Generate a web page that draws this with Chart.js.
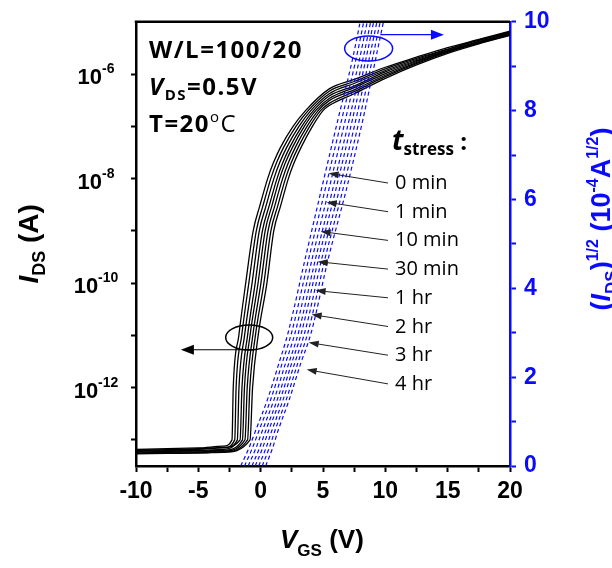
<!DOCTYPE html>
<html>
<head>
<meta charset="utf-8">
<script src="https://cdn.jsdelivr.net/npm/chart.js@4.4.0/dist/chart.umd.min.js"></script>
<style>
  html, body { margin: 0; padding: 0; background: #fff; }
  #wrap { width: 612px; height: 568px; }
</style>
</head>
<body>
<div id="wrap"><canvas id="transfer-canvas" width="612" height="568"></canvas></div>
<script>
// Transfer curves after gate-bias stress: log I_DS (left) and sqrt(I_DS) (right)
const STRESS_LABELS = ['0 min', '1 min', '10 min', '30 min', '1 hr', '2 hr', '3 hr', '4 hr'];

// off-state current, shared VGS grid
const VGS_OFF = [-10, -7.5, -5, -3];
const IDS_OFF = [
    [6.6e-14, 6.8e-14, 7.0e-14, 7.6e-14],
    [6.2e-14, 6.4e-14, 6.6e-14, 7.0e-14],
    [6.0e-14, 6.2e-14, 6.3e-14, 6.6e-14],
    [6.4e-14, 6.5e-14, 6.8e-14, 7.2e-14],
    [5.8e-14, 6.0e-14, 6.1e-14, 6.3e-14],
    [5.6e-14, 5.8e-14, 5.9e-14, 6.1e-14],
    [5.5e-14, 5.6e-14, 5.7e-14, 5.9e-14],
    [5.4e-14, 5.5e-14, 5.6e-14, 5.8e-14]
];

// subthreshold rise: VGS at which each curve reaches these currents
const ID_LEVELS = [1e-13, 1e-12, 1e-11, 1e-10, 1e-9, 3e-9, 1e-8, 2e-8, 4e-8, 1e-7, 2e-7];
const VGS_RISE = [
    [-2.30, -2.20, -1.75, -1.20, -0.60, -0.07, 0.56, 1.02, 1.60, 2.60, 3.60],
    [-2.08, -1.97, -1.52, -0.95, -0.35, 0.18, 0.81, 1.27, 1.85, 2.83, 3.81],
    [-1.87, -1.74, -1.29, -0.69, -0.11, 0.43, 1.06, 1.52, 2.10, 3.07, 4.02],
    [-1.65, -1.50, -1.05, -0.44, 0.14, 0.68, 1.31, 1.77, 2.34, 3.30, 4.23],
    [-1.46, -1.30, -0.85, -0.21, 0.36, 0.90, 1.52, 1.98, 2.56, 3.50, 4.41],
    [-1.26, -1.08, -0.63, 0.02, 0.59, 1.13, 1.76, 2.22, 2.79, 3.72, 4.61],
    [-1.05, -0.87, -0.42, 0.26, 0.82, 1.37, 1.99, 2.45, 3.02, 3.93, 4.80],
    [-0.85, -0.65, -0.20, 0.50, 1.05, 1.60, 2.22, 2.68, 3.25, 4.15, 5.00]
];

// on-state current, shared VGS grid
const VGS_ON = [5.5, 7.5, 10, 12.5, 15, 17.5, 20];
const IDS_ON = [
    [5.2e-7, 7.9e-7, 1.35e-6, 2.1e-6, 3.2e-6, 4.6e-6, 6.6e-6],
    [4.7e-7, 7.2e-7, 1.26e-6, 2.0e-6, 3.0e-6, 4.5e-6, 6.4e-6],
    [4.2e-7, 6.6e-7, 1.17e-6, 1.9e-6, 2.95e-6, 4.4e-6, 6.2e-6],
    [3.8e-7, 5.9e-7, 1.10e-6, 1.8e-6, 2.8e-6, 4.2e-6, 6.1e-6],
    [3.4e-7, 5.5e-7, 1.02e-6, 1.74e-6, 2.75e-6, 4.1e-6, 5.9e-6],
    [3.1e-7, 5.0e-7, 9.5e-7, 1.66e-6, 2.7e-6, 4.0e-6, 5.8e-6],
    [2.75e-7, 4.6e-7, 8.9e-7, 1.58e-6, 2.6e-6, 3.9e-6, 5.6e-6],
    [2.5e-7, 4.2e-7, 8.3e-7, 1.5e-6, 2.5e-6, 3.8e-6, 5.5e-6]
];

// sqrt(I_DS) in 1e-4 A^1/2: VGS at which each curve reaches these levels
const SQRT_LEVELS = [0, 0.4, 0.8, 1.5, 2.3, 3.0, 4.7, 6.2, 7.8, 9.2, 10.6];
const VGS_SQRT = [
    [-1.60, -0.95, -0.40, 0.55, 1.45, 2.20, 3.60, 4.85, 6.20, 7.40, 8.40],
    [-1.30, -0.67, -0.13, 0.81, 1.71, 2.48, 3.88, 5.15, 6.50, 7.68, 8.69],
    [-1.00, -0.38, 0.14, 1.08, 1.98, 2.76, 4.16, 5.45, 6.80, 7.96, 8.97],
    [-0.70, -0.10, 0.41, 1.34, 2.24, 3.03, 4.43, 5.75, 7.10, 8.23, 9.26],
    [-0.44, 0.15, 0.64, 1.57, 2.47, 3.27, 4.67, 6.01, 7.36, 8.47, 9.50],
    [-0.16, 0.42, 0.90, 1.81, 2.71, 3.53, 4.93, 6.29, 7.64, 8.73, 9.77],
    [0.12, 0.68, 1.15, 2.06, 2.96, 3.79, 5.19, 6.57, 7.92, 8.99, 10.03],
    [0.40, 0.95, 1.40, 2.30, 3.20, 4.05, 5.45, 6.85, 8.20, 9.25, 10.30]
];

const LOG_TICKS = [1e-13, 1e-12, 1e-11, 1e-10, 1e-9, 1e-8, 1e-7, 1e-6];
const LOG_LABELS = { '-6': '-6', '-8': '-8', '-10': '-10', '-12': '-12' };

const BLUE = '#0a0aff';
const AXIS_FONT = '"Liberation Sans", Arial, sans-serif';
const NOTE_FONT = '"Open Sans", "Noto Sans", sans-serif';

function blackCurve(i) {
    const pts = [];
    VGS_OFF.forEach((v, k) => pts.push({ x: v, y: IDS_OFF[i][k] }));
    VGS_RISE[i].forEach((v, k) => pts.push({ x: v, y: ID_LEVELS[k] }));
    VGS_ON.forEach((v, k) => pts.push({ x: v, y: IDS_ON[i][k] }));
    return pts;
}

function sqrtCurve(i) {
    return VGS_SQRT[i].map((v, k) => ({ x: v, y: SQRT_LEVELS[k] }));
}

const datasets = [];
STRESS_LABELS.forEach((label, i) => {
    datasets.push({
        label: label + ' sqrt',
        data: sqrtCurve(i),
        yAxisID: 'y2',
        borderColor: BLUE,
        borderWidth: 1.2,
        borderDash: [4, 3],
        cubicInterpolationMode: 'monotone',
        showLine: true,
        pointRadius: 0,
        order: 0
    });
});
STRESS_LABELS.forEach((label, i) => {
    datasets.push({
        label: label,
        data: blackCurve(i),
        yAxisID: 'y',
        borderColor: '#000',
        borderWidth: 1.3,
        cubicInterpolationMode: 'monotone',
        showLine: true,
        pointRadius: 0,
        order: 1
    });
});

// draws a sequence of text runs with their own fonts and offsets; returns end x
function drawRuns(ctx, x, y, parts) {
    for (const p of parts) {
        ctx.font = p.font;
        ctx.fillText(p.text, x, y + (p.dy || 0));
        x += ctx.measureText(p.text).width;
    }
    return x;
}
function runsWidth(ctx, parts) {
    let w = 0;
    for (const p of parts) { ctx.font = p.font; w += ctx.measureText(p.text).width; }
    return w;
}

function arrow(ctx, x0, y0, x1, y1, color, headLen, headHalf) {
    const ang = Math.atan2(y1 - y0, x1 - x0);
    ctx.strokeStyle = color;
    ctx.fillStyle = color;
    ctx.beginPath();
    ctx.moveTo(x0, y0);
    ctx.lineTo(x1 - Math.cos(ang) * headLen * 0.8, y1 - Math.sin(ang) * headLen * 0.8);
    ctx.stroke();
    ctx.beginPath();
    ctx.moveTo(x1, y1);
    ctx.lineTo(x1 - Math.cos(ang) * headLen - Math.sin(ang) * headHalf, y1 - Math.sin(ang) * headLen + Math.cos(ang) * headHalf);
    ctx.lineTo(x1 - Math.cos(ang) * headLen + Math.sin(ang) * headHalf, y1 - Math.sin(ang) * headLen - Math.cos(ang) * headHalf);
    ctx.closePath();
    ctx.fill();
}

// label arrow heads sit on the sqrt curves (VGS, sqrt units)
const ARROW_TIPS = [[5.45, 6.59], [5.29, 5.94], [4.81, 5.28], [4.57, 4.60], [4.41, 3.95], [4.09, 3.41], [3.85, 2.78], [3.69, 2.17]];

const decorations = {
    id: 'decorations',
    afterDraw(chart) {
        const { ctx, chartArea: a, scales } = chart;
        const sx = scales.x, sy = scales.y, s2 = scales.y2;
        ctx.save();
        ctx.textBaseline = 'alphabetic';

        // top frame
        ctx.strokeStyle = '#000';
        ctx.lineWidth = 2.5;
        ctx.beginPath();
        ctx.moveTo(a.left - 1.25, a.top);
        ctx.lineTo(a.right, a.top);
        ctx.stroke();

        // left decade labels 10^n, centred under one another
        ctx.fillStyle = '#000';
        ctx.textAlign = 'left';
        LOG_TICKS.forEach(v => {
            const e = String(Math.round(Math.log10(v)));
            if (!LOG_LABELS[e]) return;
            const parts = [
                { text: '10', font: 'bold 22px ' + AXIS_FONT },
                { text: LOG_LABELS[e], font: 'bold 14px ' + AXIS_FONT, dy: -11 }
            ];
            const w = runsWidth(ctx, parts);
            drawRuns(ctx, 96 - w / 2, sy.getPixelForValue(v) + 10, parts);
        });

        // left axis title
        ctx.save();
        const lt = [
            { text: 'I', font: 'italic bold 28px ' + AXIS_FONT },
            { text: 'DS', font: 'bold 18px ' + AXIS_FONT, dy: 7 },
            { text: ' (A)', font: 'bold 28px ' + AXIS_FONT }
        ];
        ctx.translate(38, (a.top + a.bottom) / 2);
        ctx.rotate(-Math.PI / 2);
        drawRuns(ctx, -runsWidth(ctx, lt) / 2, 0, lt);
        ctx.restore();

        // right axis title
        ctx.save();
        ctx.fillStyle = BLUE;
        const rt = [
            { text: '(', font: 'bold 27px ' + AXIS_FONT },
            { text: 'I', font: 'italic bold 27px ' + AXIS_FONT },
            { text: 'DS', font: 'bold 17px ' + AXIS_FONT, dy: 7 },
            { text: ')', font: 'bold 27px ' + AXIS_FONT },
            { text: '1/2', font: 'bold 16px ' + AXIS_FONT, dy: -12 },
            { text: ' (10', font: 'bold 27px ' + AXIS_FONT },
            { text: '-4', font: 'bold 16px ' + AXIS_FONT, dy: -12 },
            { text: 'A', font: 'bold 27px ' + AXIS_FONT },
            { text: '1/2', font: 'bold 16px ' + AXIS_FONT, dy: -12 },
            { text: ')', font: 'bold 27px ' + AXIS_FONT }
        ];
        ctx.translate(610, 219);
        ctx.rotate(-Math.PI / 2);
        drawRuns(ctx, -runsWidth(ctx, rt) / 2, 0, rt);
        ctx.restore();

        // bottom axis title
        drawRuns(ctx, 280, 548, [
            { text: 'V', font: 'italic bold 26px ' + AXIS_FONT },
            { text: 'GS', font: 'bold 17px ' + AXIS_FONT, dy: 8 },
            { text: ' (V)', font: 'bold 26px ' + AXIS_FONT }
        ]);

        // device notes
        const tx = a.left + 13;
        ctx.letterSpacing = '1.5px';
        drawRuns(ctx, tx, 58, [{ text: 'W/L=100/20', font: 'bold 24px ' + NOTE_FONT }]);
        drawRuns(ctx, tx, 95, [
            { text: 'V', font: 'italic bold 24px ' + NOTE_FONT },
            { text: 'DS', font: 'bold 15px ' + NOTE_FONT, dy: 5 },
            { text: '=0.5V', font: 'bold 24px ' + NOTE_FONT }
        ]);
        drawRuns(ctx, tx, 132, [
            { text: 'T=20', font: 'bold 24px ' + NOTE_FONT },
            { text: 'o', font: '15px ' + NOTE_FONT, dy: -10 },
            { text: 'C', font: '24px ' + NOTE_FONT }
        ]);
        ctx.letterSpacing = '0px';

        // stress-time legend with arrows onto the sqrt curves
        drawRuns(ctx, 392, 150, [
            { text: 't', font: 'italic bold 28px ' + NOTE_FONT },
            { text: 'stress', font: 'bold 17px ' + NOTE_FONT, dy: 5 },
            { text: ' :', font: 'bold 24px ' + NOTE_FONT }
        ]);
        ctx.lineWidth = 1;
        STRESS_LABELS.forEach((label, i) => {
            const base = 189 + i * 28.7;
            ctx.fillStyle = '#000';
            drawRuns(ctx, 395, base, [{ text: label, font: '20px ' + NOTE_FONT }]);
            const tip = ARROW_TIPS[i];
            arrow(ctx, 388, base - 6, sx.getPixelForValue(tip[0]), s2.getPixelForValue(tip[1]), '#222', 10, 3.5);
        });

        // ellipse + arrow: solid curves belong to the left axis
        ctx.lineWidth = 1.5;
        ctx.strokeStyle = '#000';
        ctx.beginPath();
        ctx.ellipse(sx.getPixelForValue(-0.92), sy.getPixelForValue(9.1e-12), 23.5, 12.5, 0, 0, Math.PI * 2);
        ctx.stroke();
        ctx.lineWidth = 1.2;
        arrow(ctx, sx.getPixelForValue(-0.56), sy.getPixelForValue(5.3e-12), sx.getPixelForValue(-6.4), sy.getPixelForValue(5.3e-12), '#000', 13, 5);

        // ellipse + arrow: dashed curves belong to the right axis
        ctx.lineWidth = 1.5;
        ctx.strokeStyle = BLUE;
        ctx.beginPath();
        ctx.ellipse(sx.getPixelForValue(8.66), s2.getPixelForValue(9.40), 24, 12.5, 0, 0, Math.PI * 2);
        ctx.stroke();
        ctx.lineWidth = 1.2;
        arrow(ctx, sx.getPixelForValue(9.6), s2.getPixelForValue(9.71), sx.getPixelForValue(14.7), s2.getPixelForValue(9.71), BLUE, 13, 5);

        ctx.restore();
    }
};

new Chart(document.getElementById('transfer-canvas'), {
    type: 'scatter',
    data: { datasets },
    options: {
        responsive: false,
        devicePixelRatio: 1,
        animation: false,
        layout: { padding: { top: 20, left: 0, right: 0, bottom: 0 } },
        plugins: { legend: { display: false }, tooltip: { enabled: false } },
        scales: {
            x: {
                type: 'linear',
                position: 'bottom',
                min: -10,
                max: 20,
                afterFit: s => { s.height = 102; },
                border: { color: '#000', width: 2.5 },
                grid: { drawOnChartArea: false, drawTicks: true, tickLength: 6, tickColor: '#000', tickWidth: 2 },
                ticks: {
                    stepSize: 2.5,
                    autoSkip: false,
                    maxRotation: 0,
                    padding: 6,
                    color: '#000',
                    font: { family: AXIS_FONT, size: 23, weight: 'bold' },
                    callback: v => (v % 5 === 0 ? String(v) : '')
                }
            },
            y: {
                type: 'logarithmic',
                position: 'left',
                min: Math.pow(10, -13.5),
                max: 1e-5,
                afterFit: s => { s.width = 136; },
                afterBuildTicks: s => { s.ticks = LOG_TICKS.map(v => ({ value: v })); },
                border: { color: '#000', width: 2.5 },
                grid: { drawOnChartArea: false, drawTicks: true, tickLength: 5, tickColor: '#000', tickWidth: 2 },
                ticks: { display: false }
            },
            y2: {
                type: 'linear',
                position: 'right',
                min: 0,
                max: 10,
                afterFit: s => { s.width = 102; },
                border: { color: BLUE, width: 2.5 },
                grid: { drawOnChartArea: false, drawTicks: true, tickLength: 6, tickColor: BLUE, tickWidth: 2 },
                ticks: {
                    stepSize: 1,
                    autoSkip: false,
                    padding: 8,
                    color: BLUE,
                    font: { family: AXIS_FONT, size: 23, weight: 'bold' },
                    callback: v => (v % 2 === 0 ? String(v) : '')
                }
            }
        }
    },
    plugins: [decorations]
});
</script>
</body>
</html>
